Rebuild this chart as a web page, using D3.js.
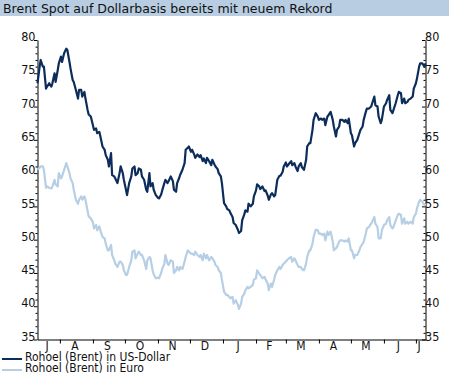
<!DOCTYPE html>
<html><head><meta charset="utf-8">
<script src="https://cdn.jsdelivr.net/npm/d3@7"></script>
<style>
html,body{margin:0;padding:0;background:#fff;}
svg{display:block;}
text{font-family:"DejaVu Sans Condensed","DejaVu Sans",sans-serif;fill:#111;}
</style></head>
<body>
<script>
const titleText = "Brent Spot auf Dollarbasis bereits mit neuem Rekord";
const startDate = "2006-07-11";
const endDate = "2007-07-10";
const seriesNames = ["Rohoel (Brent) in US-Dollar", "Rohoel (Brent) in Euro"];
const monthLabels = ["J","A","S","O","N","D","J","F","M","A","M","J","J"];
const yMajorTicks = [35,40,45,50,55,60,65,70,75,80];

// days since startDate
const dayOffsets = [
0,2,3,5,6,8,9,11,13,14,16,17,19,20,22,23,
25,27,28,30,31,33,34,36,38,39,41,42,44,45,47,48,
50,52,53,55,56,58,59,61,63,64,66,67,69,70,72,73,
75,77,78,80,81,83,84,86,88,89,91,92,94,95,97,98,
100,102,103,105,106,108,109,111,113,114,116,117,119,120,122,123,
125,127,128,130,131,133,134,136,138,139,141,142,144,145,147,148,
150,152,153,155,156,158,159,161,163,164,166,167,169,170,172,173,
175,177,178,180,181,183,184,186,188,189,191,192,194,195,197,198,
200,202,203,205,206,208,209,211,213,214,216,217,219,220,222,223,
225,227,228,230,231,233,234,236,238,239,241,242,244,245,247,248,
250,252,253,255,256,258,259,261,263,264,266,267,269,270,272,273,
275,277,278,280,281,283,284,286,288,289,291,292,294,295,297,298,
300,302,303,305,306,308,309,311,313,314,316,317,319,320,322,323,
325,327,328,330,331,333,334,336,338,339,341,342,344,345,347,348,
350,352,353,355,356,358,359,361,363,364];

const usdValues = [
73.5,76,77,76,76,72.7,73,73.5,73,73.5,75,73.7,75.5,76.5,77.5,76.7,
78,78.7,78.5,76.7,75.7,74,73.7,72.5,71.2,72.5,72.5,71.5,72.2,71.2,69.5,68.8,
68.5,67.2,66.5,66.7,66,66.2,65.5,64,63.5,62.7,62,61,63,59.7,59.5,59.2,
58.5,60,61,60,59,57.5,56.7,58.5,59.5,60.7,61,59.7,60,60.7,60.5,59.5,
59,57.5,57.2,60,58,58.5,57.5,56.7,56.3,56.2,56.8,57.4,58.5,59,58.5,58.8,
59.5,58.8,57.5,57.2,58.5,59.3,59.8,60.5,61.5,63.5,63.8,64,63.2,63.5,62.8,62.3,
62.8,62.4,62.7,61.8,62.2,61.5,62.3,61.8,61.2,62,61.3,61,60.6,60,59.5,58.5,
55.5,55,54.6,54.4,54,53.4,52.5,52.2,51.5,51,51.3,52.9,53.8,54.4,54.2,55.4,
55,55.4,56.5,57.4,58.3,58,57.6,58,57.3,57.4,56.6,56,56.8,57,56.5,56.7,
59,59.6,59.6,60.2,61,61.6,61,61.4,61.8,61.2,61.5,61,60.3,61,61.5,60.9,
60.5,62,64,64.5,64.5,66.5,68,69,68.5,68,68.2,68,68.2,67.2,68.5,68.7,
69.2,68,67,65.5,66.5,67,68,68,67.7,68,67.5,68.2,66,65.7,64,64.5,
65,66,66.5,67,68,69.2,69.7,69.7,70,70.5,71.5,70.2,70,68.5,67.5,68,
70,70.5,71,71.7,69.5,69,69.5,70.5,71.7,72.2,72,70.5,71.2,70.5,70.7,71,
71.2,71.5,72.7,73.5,74.2,76,76.5,76.5,76,76.5];

const eurValues = [
60.5,60.8,61,61,60.5,57.8,58,57.8,57.7,58,59,58.3,58,60,59.2,59.5,
60.5,61.5,61,60,59.2,58.5,57.5,56,55.4,56,56.5,56,56.5,56,54.3,53.5,
53.2,52.6,51.7,52.2,51.4,52,51.4,50.4,50.2,49.4,48.4,48.4,49.2,47.7,46.9,46.4,
45.9,46.7,46.7,46.2,45.4,44.7,44.7,45.9,46.9,48.2,48.4,47.2,47.9,48.2,47.7,47.7,
46.9,45.6,46.9,47.4,47.2,45.4,44.8,44.2,44.3,44.2,45,45.6,46.4,47.7,46.4,46.2,
46.9,46.7,45,45.4,45.9,45.4,45.9,45.6,46.7,47.4,48.4,48.2,47.9,47.9,47.7,48.2,
47.7,47.4,47.7,46.9,47.9,47.2,47.7,46.9,47.4,47.2,46.7,46.2,45.9,45.4,45,44,
42.2,41.7,41.7,41.4,41.2,41.4,40.4,40.9,40.2,39.6,40.4,41.4,41.9,42.4,42.9,42.7,
42.9,43.2,44,44.2,45.4,44.9,44.7,44.2,44.4,44,43.4,42.4,43.4,42.9,44,44.7,
45.4,45.9,45.6,46.2,46.4,46.7,46.9,47.2,47.4,46.7,47.2,46.9,46.2,45.9,45.9,45.6,
45.4,46.4,47.4,48.4,48.4,49.4,50.4,51.5,51.4,50.9,50.9,50.7,50.9,49.9,51.2,50.7,
51.2,49.7,48.4,48.7,48.9,49.7,49.9,49.9,49.7,49.9,49.7,50.2,48.4,48.4,47.2,47.7,
47.7,48.4,48.9,49.4,49.7,50.9,51.7,51.9,52.4,52.7,53.4,52.4,51.9,50.2,50.2,51.4,
52.2,52.4,52.9,53.4,52.2,51.7,51.9,52.9,53.7,53.9,53.7,52.4,53.2,52.4,52.7,52.4,
52.7,52.4,53.4,53.9,54.7,55.7,56,55.7,55.2,55.4];

const colors = ["#0c2d5b", "#b6cfe5"];

const W = 449, H = 380;
const svg = d3.select("body").append("svg").attr("width", W).attr("height", H);

// title bar
svg.append("rect").attr("x",0).attr("y",0).attr("width",W).attr("height",16).attr("fill","#b8cde1");
svg.append("text").attr("x",3).attr("y",12.5)
  .style("font-family","'DejaVu Sans',sans-serif").style("font-size","12.5px").text(titleText);

const parse = d3.utcParse("%Y-%m-%d");
const t0 = parse(startDate), t1 = parse(endDate);
const x = d3.scaleUtc().domain([t0, t1]).range([37.5, 425.5]);
const y = d3.scaleLinear().domain([35, 80]).range([339.5, 40]);

const dates = dayOffsets.map(d => d3.utcDay.offset(t0, d));
const series = [usdValues, eurValues];

// axes
const minorTicks = d3.range(35, 81, 1).filter(v => v % 5 !== 0);
const gL = svg.append("g").attr("transform", "translate(37.5,0)");
gL.call(d3.axisLeft(y).tickValues(minorTicks).tickSize(2).tickSizeOuter(0).tickFormat(""));
gL.call(g => g.selectAll(".domain").remove());
const gL2 = svg.append("g").attr("transform", "translate(37.5,0)");
gL2.call(d3.axisLeft(y).tickValues(yMajorTicks).tickSize(3.5).tickSizeOuter(0).tickPadding(-1.5));
gL2.selectAll("text").attr("dy","0.05em").style("font-size","12.5px").attr("fill","#111");

const gR = svg.append("g").attr("transform", "translate(425.5,0)");
gR.call(d3.axisLeft(y).tickValues(minorTicks).tickSize(2).tickSizeOuter(0).tickFormat(""));
gR.call(g => g.selectAll(".domain").remove());
const gR2 = svg.append("g").attr("transform", "translate(425.5,0)");
gR2.call(d3.axisRight(y).tickValues(yMajorTicks).tickSize(-3.5).tickSizeOuter(0).tickPadding(-0.5));
gR2.selectAll("text").attr("dy","0.05em").style("font-size","12.5px").attr("fill","#111");

const monthStarts = d3.utcMonth.range(d3.utcMonth.ceil(t0), t1);
const gB = svg.append("g").attr("transform", "translate(0,339.5)");
gB.call(d3.axisBottom(x).tickValues(monthStarts).tickSize(4).tickSizeOuter(0).tickFormat(""));
svg.selectAll(".domain").attr("stroke","#000");
svg.selectAll(".tick line").attr("stroke","#000");

// month labels centred on visible part of each month
const bounds = [t0, ...monthStarts, t1];
for (let i = 0; i < bounds.length - 1; i++) {
  const cx = (x(bounds[i]) + x(bounds[i+1])) / 2 - 1.5;
  svg.append("text").attr("x", cx).attr("y", 350).attr("text-anchor","middle")
    .style("font-size","12px").text(monthLabels[i]);
}

// lines
const line = d3.line().x((d,i) => x(dates[i])).y(d => y(d));
[1,0].forEach(s => {
  svg.append("path").datum(series[s]).attr("d", line)
    .attr("fill","none").attr("stroke", colors[s]).attr("stroke-width", 2.2)
    .attr("stroke-linejoin","round");
});

// legend
seriesNames.forEach((name, i) => {
  const yy = 359 + i * 11;
  svg.append("line").attr("x1", 2).attr("x2", 22).attr("y1", yy).attr("y2", yy)
    .attr("stroke", colors[i]).attr("stroke-width", 2);
  svg.append("text").attr("x", 25).attr("y", yy + 1.5).style("font-size","12px").text(name);
});
</script>
</body></html>
